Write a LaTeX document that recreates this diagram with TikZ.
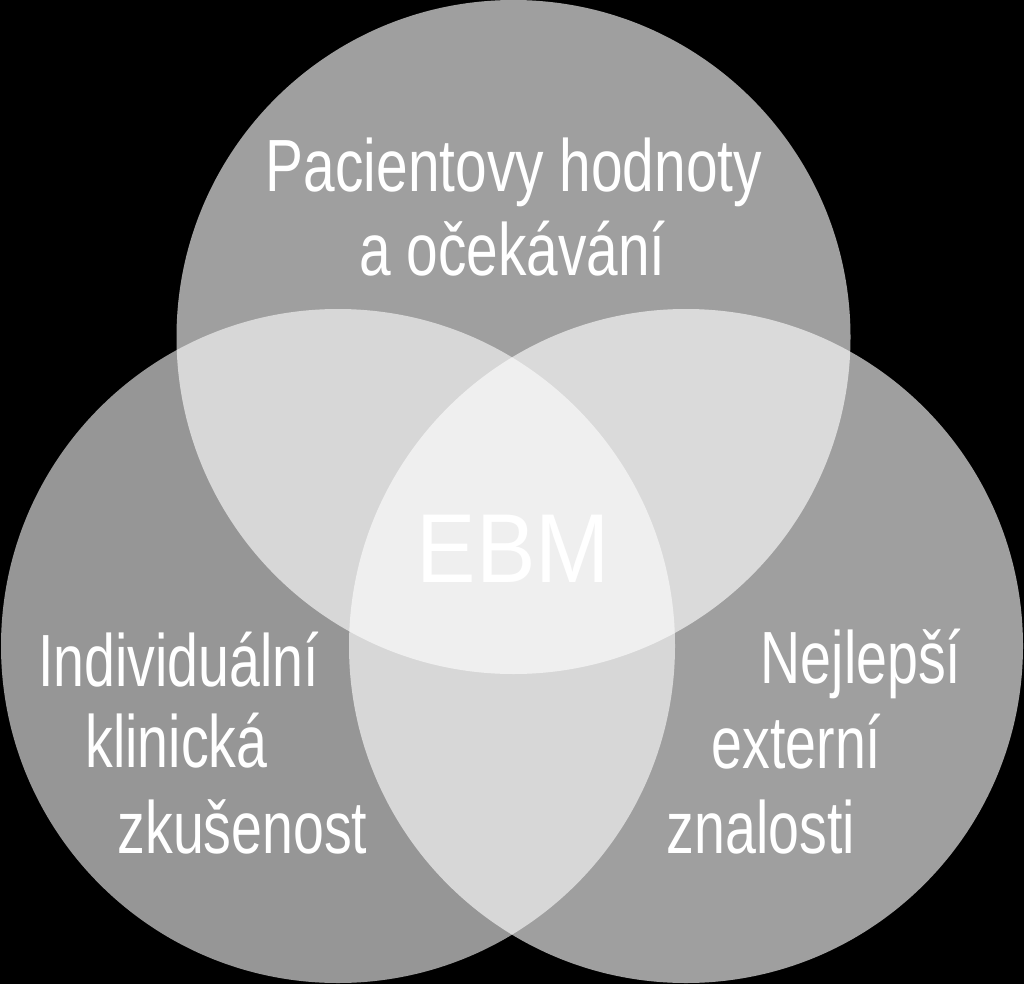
\documentclass[tikz,border=0pt]{standalone}
\usepackage{fontspec}
\newfontfamily\labfont[FakeStretch=0.75]{Liberation Sans}
\newfontfamily\topfont[FakeStretch=0.768]{Liberation Sans}
\newfontfamily\ebmfont[FakeStretch=0.91]{Liberation Sans}
\tikzset{
  setcircle/.style={fill=white, fill opacity=0.624, draw=none},
  lab/.style={text=white, inner sep=0pt, anchor=base, font=\labfont\fontsize{74}{80}\selectfont},
  toplab/.style={lab, font=\topfont\fontsize{74}{80}\selectfont},
  ebm/.style={text=white, inner sep=0pt, anchor=base, font=\ebmfont\fontsize{98}{100}\selectfont}
}
\begin{document}
\begin{tikzpicture}[x=1pt,y=-1pt]
\fill[black] (0,0) rectangle (1024,984);
\useasboundingbox (0,0) rectangle (1024,984);
\begin{scope}
\clip (0,0) rectangle (1024,984);
\fill[setcircle] (513.5,337) circle[radius=337];
\fill[setcircle, fill opacity=0.59] (338,646) circle[radius=337];
\fill[setcircle] (686,646) circle[radius=337];
\end{scope}
\node[toplab] (p1) at (514,192) {Pacientovy hodnoty};
\node[toplab] (p2) at (512.5,275) {a očekávání};
\node[lab] (l1) at (178.5,686) {Individuální};
\node[lab] (l2) at (176.5,767) {klinická};
\node[lab] (l3) at (242.5,853) {zkušenost};
\node[lab] (r1) at (861,683) {Nejlepší};
\node[lab] (r2) at (796.5,768) {externí};
\node[lab] (r3) at (761,853) {znalosti};
\node[ebm] (e) at (513.5,582) {EBM};
\end{tikzpicture}
\end{document}
